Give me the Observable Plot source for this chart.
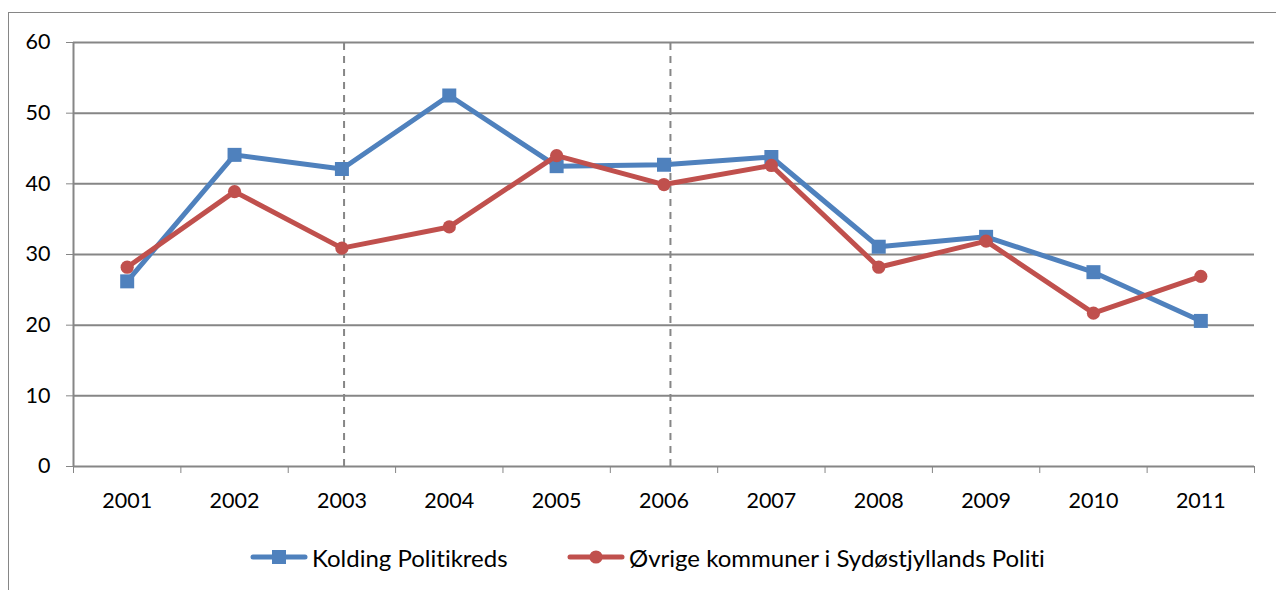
<!DOCTYPE html>
<html><head><meta charset="utf-8">
<script src="https://cdn.jsdelivr.net/npm/d3@7"></script>
<script src="https://cdn.jsdelivr.net/npm/@observablehq/plot@0.6"></script>
<style>
body{margin:0;background:#fff;font-family:Lato,sans-serif;font-variant-ligatures:none;}
#wrap{position:relative;width:1276px;height:590px;overflow:hidden;background:#fff;}
#frame{position:absolute;left:8px;top:12px;width:1400px;height:800px;border-left:1.5px solid #868686;border-top:1.5px solid #868686;}
#chart{position:absolute;left:0;top:0;}
#chart svg text{font-variant-ligatures:none;}
.item{position:absolute;top:543px;height:28px;display:flex;align-items:center;font-size:24px;color:#000;white-space:nowrap;font-variant-ligatures:none;}
.item svg{margin-right:4px;}
</style></head>
<body>
<div id="wrap"><div id="frame"></div><div id="chart"></div>
<div class="item" id="leg1" style="left:250px"></div>
<div class="item" id="leg2" style="left:567px"></div>
</div>
<script>
const years = [2001, 2002, 2003, 2004, 2005, 2006, 2007, 2008, 2009, 2010, 2011];
const kolding = [26.2, 44.1, 42.1, 52.5, 42.5, 42.7, 43.8, 31.1, 32.5, 27.5, 20.6];
const ovrige = [28.2, 38.9, 30.9, 33.9, 44.0, 39.9, 42.6, 28.2, 31.9, 21.7, 26.9];
const yTicks = [0, 10, 20, 30, 40, 50, 60];
const dividers = [2003.02, 2006.06];
const seriesNames = ["Kolding Politikreds", "Øvrige kommuner i Sydøstjyllands Politi"];
const colors = ["#4F81BD", "#C0504D"];

const boundaries = years.map(y => y - 0.5).concat([years[years.length - 1] + 0.5]);
const blueData = years.map((y, i) => ({year: y, value: kolding[i]}));
const redData = years.map((y, i) => ({year: y, value: ovrige[i]}));
const grey = "#868686";

const chart = Plot.plot({
  width: 1276, height: 590,
  marginLeft: 73, marginRight: 22, marginTop: 42, marginBottom: 124,
  style: {fontFamily: "Lato, sans-serif", fontSize: "21.5px", color: "#000", background: "transparent"},
  x: {type: "linear", domain: [boundaries[0], boundaries[boundaries.length - 1]]},
  y: {domain: [0, 60]},
  marks: [
    Plot.ruleY(yTicks.filter(d => d > 0), {stroke: grey, strokeWidth: 2}),
    Plot.ruleX(dividers, {y1: 0, y2: 60, stroke: grey, strokeWidth: 2, strokeDasharray: "7,6"}),
    Plot.ruleX([boundaries[0]], {y1: 0, y2: 60, stroke: grey, strokeWidth: 2}),
    Plot.ruleY([0], {stroke: grey, strokeWidth: 2}),
    Plot.axisY({ticks: yTicks, tickSize: 7, tickPadding: 16, stroke: grey, fill: "#000", label: null, tickFormat: d => String(d)}),
    Plot.axisX({ticks: boundaries, tickSize: 7, stroke: grey, tickFormat: () => "", label: null}),
    Plot.axisX({ticks: years, tickSize: 0, tickPadding: 26, fill: "#000", label: null, tickFormat: d => String(d)}),
    Plot.line(blueData, {x: "year", y: "value", stroke: colors[0], strokeWidth: 5, strokeLinejoin: "round"}),
    Plot.dot(blueData, {x: "year", y: "value", symbol: "square", r: 7.9, fill: colors[0], stroke: "none"}),
    Plot.line(redData, {x: "year", y: "value", stroke: colors[1], strokeWidth: 5, strokeLinejoin: "round"}),
    Plot.dot(redData, {x: "year", y: "value", symbol: "circle", r: 6.6, fill: colors[1], stroke: "none"})
  ]
});
document.getElementById("chart").appendChild(chart);

function swatch(color, square) {
  const ns = "http://www.w3.org/2000/svg";
  const s = document.createElementNS(ns, "svg");
  s.setAttribute("width", 58); s.setAttribute("height", 20);
  const l = document.createElementNS(ns, "line");
  l.setAttribute("x1", 3); l.setAttribute("x2", 55); l.setAttribute("y1", 10); l.setAttribute("y2", 10);
  l.setAttribute("stroke", color); l.setAttribute("stroke-width", 5); l.setAttribute("stroke-linecap", "round");
  s.appendChild(l);
  let m;
  if (square) {
    m = document.createElementNS(ns, "rect");
    m.setAttribute("x", 22); m.setAttribute("y", 3); m.setAttribute("width", 14); m.setAttribute("height", 14);
  } else {
    m = document.createElementNS(ns, "circle");
    m.setAttribute("cx", 29); m.setAttribute("cy", 10); m.setAttribute("r", 6.6);
  }
  m.setAttribute("fill", color);
  s.appendChild(m);
  return s;
}
const l1 = document.getElementById("leg1");
l1.appendChild(swatch(colors[0], true));
l1.appendChild(document.createTextNode(seriesNames[0]));
const l2 = document.getElementById("leg2");
l2.appendChild(swatch(colors[1], false));
l2.appendChild(document.createTextNode(seriesNames[1]));
</script>
</body></html>
